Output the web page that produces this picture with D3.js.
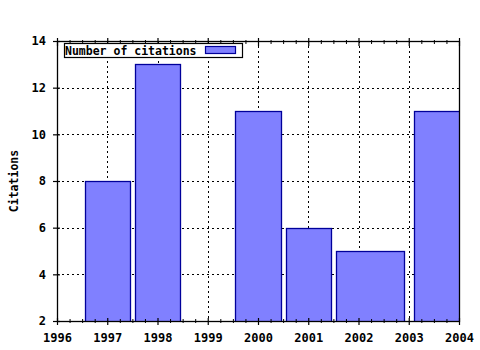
<!DOCTYPE html>
<html>
<head>
<meta charset="utf-8">
<script src="https://cdn.jsdelivr.net/npm/d3@7"></script>
<style>
  body { margin: 0; background: #fff; }
  text { font-family: "DejaVu Sans Mono", monospace; font-weight: bold; font-size: 12px; fill: #000; }
</style>
</head>
<body>
<div class="chart"></div>
<script>
// data (1999 lies below the visible range)
const years = [1997, 1998, 1999, 2000, 2001, 2002, 2004];
const citations = [8, 13, 1, 11, 6, 5, 11];
const xTicks = [1996, 1997, 1998, 1999, 2000, 2001, 2002, 2003, 2004];
const yTicks = [2, 4, 6, 8, 10, 12, 14];
const seriesName = "Number of citations";

const W = 480, H = 350;
const margin = {top: 41, right: 21, bottom: 29, left: 57},
    width = W - margin.left - margin.right,
    height = H - margin.top - margin.bottom;

const svg = d3.select(".chart").append("svg")
    .attr("width", W)
    .attr("height", H);

const g = svg.append("g")
    .attr("transform", "translate(" + margin.left + "," + margin.top + ")");

const x = d3.scaleLinear().domain([1996, 2004]).range([0, width]);
const y = d3.scaleLinear().domain([2, 14]).range([height, 0]);

g.append("clipPath").attr("id", "clip")
  .append("rect").attr("width", width).attr("height", height);

// grid
const grid = g.append("g").attr("stroke", "#000").attr("stroke-width", 1)
    .attr("stroke-dasharray", "2,3").attr("shape-rendering", "crispEdges");
grid.selectAll(".gx").data(xTicks.slice(1, -1)).enter().append("line")
    .attr("x1", d => Math.round(x(d)) + 0.5).attr("x2", d => Math.round(x(d)) + 0.5)
    .attr("y1", 0).attr("y2", height);
grid.selectAll(".gy").data(yTicks.slice(1, -1)).enter().append("line")
    .attr("y1", d => Math.round(y(d)) + 0.5).attr("y2", d => Math.round(y(d)) + 0.5)
    .attr("x1", 0).attr("x2", width);

// boxes, gnuplot style auto width (0.9 of half-gaps to neighbours)
const bars = years.map((yr, i) => {
  const prev = i > 0 ? yr - years[i - 1] : years[i + 1] - yr;
  const next = i < years.length - 1 ? years[i + 1] - yr : yr - years[i - 1];
  return {x0: yr - 0.9 * prev / 2, x1: yr + 0.9 * next / 2, v: citations[i]};
});

g.append("g").attr("clip-path", "url(#clip)")
  .selectAll("rect").data(bars).enter().append("rect")
    .attr("x", d => Math.round(x(d.x0)) + 0.5)
    .attr("width", d => Math.round(x(d.x1)) - Math.round(x(d.x0)))
    .attr("y", d => Math.round(y(d.v)) + 0.5)
    .attr("height", d => Math.max(0, Math.round(y(0)) - Math.round(y(d.v))))
    .attr("fill", "#8080ff")
    .attr("stroke", "#00009a")
    .attr("stroke-width", 1.3);

// frame
g.append("rect").attr("x", 0.5).attr("y", 0.5).attr("width", width).attr("height", height)
    .attr("fill", "none").attr("stroke", "#000").attr("stroke-width", 1.3);

// axes
const minor = d3.range(1996, 2004.01, 0.25).filter(v => !xTicks.includes(v));

const axBottom = g.append("g").attr("transform", "translate(0," + height + ")")
    .call(d3.axisBottom(x).tickValues(xTicks).tickFormat(d3.format("d")).tickSizeInner(4).tickSizeOuter(0).tickPadding(8));
axBottom.select(".domain").remove();
axBottom.selectAll(".tick line").attr("y1", -3).attr("stroke-width", 1.2);

const axBottomMinor = g.append("g").attr("transform", "translate(0," + height + ")")
    .call(d3.axisBottom(x).tickValues(minor).tickFormat("").tickSizeInner(2).tickSizeOuter(0));
axBottomMinor.select(".domain").remove();
axBottomMinor.selectAll(".tick line").attr("y1", -2);

const axTop = g.append("g")
    .call(d3.axisTop(x).tickValues(xTicks).tickFormat("").tickSizeInner(3).tickSizeOuter(0));
axTop.select(".domain").remove();
axTop.selectAll(".tick line").attr("y1", 5).attr("stroke-width", 1.2);

const axTopMinor = g.append("g")
    .call(d3.axisTop(x).tickValues(minor).tickFormat("").tickSizeInner(1).tickSizeOuter(0));
axTopMinor.select(".domain").remove();
axTopMinor.selectAll(".tick line").attr("y1", 3);

const axLeft = g.append("g")
    .call(d3.axisLeft(y).tickValues(yTicks).tickSizeInner(4).tickSizeOuter(0).tickPadding(7));
axLeft.select(".domain").remove();
axLeft.selectAll(".tick line").attr("x1", 3).attr("stroke-width", 1.2);

// let the css font apply to tick labels
svg.selectAll("g").attr("font-size", null).attr("font-family", null);

// y label
svg.append("text")
    .attr("transform", "translate(18," + (margin.top + height / 2) + ") rotate(-90)")
    .attr("text-anchor", "middle")
    .style("font-size", "11.5px")
    .text("Citations");

// legend
const lg = svg.append("g").attr("transform", "translate(64,43)");
lg.append("rect").attr("x", 0.5).attr("y", 0.5).attr("width", 178).attr("height", 14)
    .attr("fill", "#fff").attr("stroke", "#000").attr("stroke-width", 1.2);
lg.append("text").attr("x", 1).attr("y", 11.5).style("font-size", "11.5px").text(seriesName);
lg.append("rect").attr("x", 141.5).attr("y", 3.5).attr("width", 30).attr("height", 7)
    .attr("fill", "#8080ff").attr("stroke", "#00009a").attr("stroke-width", 1.2);
</script>
</body>
</html>
